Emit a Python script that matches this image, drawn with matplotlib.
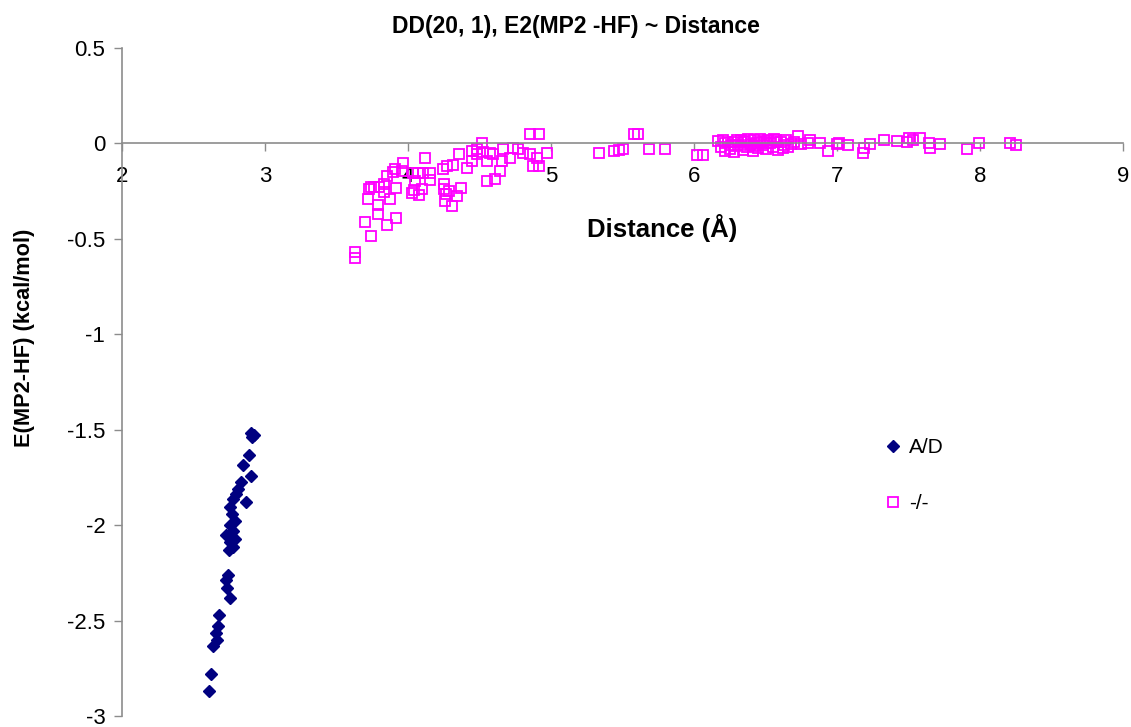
import matplotlib
matplotlib.use("Agg")
import matplotlib.pyplot as plt

plt.rcParams["font.family"] = ["Liberation Sans", "DejaVu Sans"]

# A/D pairs: distance (Å) vs E(MP2-HF) (kcal/mol)
ad_dist = [2.90, 2.92, 2.91, 2.888, 2.848, 2.90, 2.83, 2.813, 2.797, 2.867, 2.774,
           2.755, 2.767, 2.79, 2.755, 2.778, 2.73, 2.79, 2.755, 2.774, 2.75,
           2.743, 2.73, 2.736, 2.755, 2.68, 2.674, 2.657, 2.662, 2.638, 2.62, 2.608]
ad_energy = [-1.516, -1.53, -1.54, -1.63, -1.684, -1.745, -1.776, -1.81, -1.837, -1.877, -1.863,
             -1.906, -1.94, -1.976, -2.00, -2.03, -2.054, -2.07, -2.09, -2.115, -2.128,
             -2.262, -2.288, -2.33, -2.384, -2.47, -2.53, -2.566, -2.60, -2.635, -2.78, -2.87]

# -/- pairs
nn_dist = [3.63, 3.63, 3.739, 3.70, 3.85, 3.916, 3.79, 3.79, 3.874, 3.72, 3.73,
           3.74, 3.76, 3.80, 3.83, 3.83, 3.916, 3.85, 3.897, 3.91, 3.963, 3.956,
           4.033, 4.07, 4.107, 4.12, 4.154, 4.154, 4.05, 4.04, 4.095, 4.03, 4.08,
           4.243, 4.275, 4.317, 4.36, 4.25, 4.25, 4.266, 4.29, 4.26, 4.306, 4.34, 4.37,
           4.41, 4.45, 4.485, 4.527, 4.517, 4.445, 4.48, 4.55, 4.573, 4.597, 4.55, 4.61,
           4.643, 4.655, 4.667, 4.713, 4.737, 4.77, 4.807, 4.853, 4.918, 4.853, 4.872,
           4.918, 4.90, 4.97,
           5.338, 5.44, 5.478, 5.50, 5.58, 5.61, 5.687, 5.80, 6.02, 6.06,
           6.17, 6.19, 6.20, 6.22, 6.24, 6.25, 6.27, 6.28, 6.30, 6.31, 6.33, 6.34,
           6.36, 6.37, 6.38, 6.40, 6.41, 6.42, 6.44, 6.45, 6.46, 6.48, 6.49, 6.50,
           6.52, 6.53, 6.55, 6.56, 6.58, 6.59, 6.61, 6.63, 6.64, 6.66, 6.68, 6.70,
           6.22, 6.29, 6.35, 6.43, 6.51, 6.57, 6.62, 6.47, 6.39, 6.26,
           6.73, 6.75, 6.80, 6.81, 6.88, 6.94, 6.998, 7.016, 7.08,
           7.18, 7.19, 7.23, 7.33, 7.42, 7.49, 7.50, 7.53, 7.58, 7.64, 7.65, 7.72,
           7.91, 7.99, 8.21, 8.25]
nn_energy = [-0.57, -0.60, -0.486, -0.413, -0.427, -0.39, -0.37, -0.323, -0.292, -0.292, -0.24,
             -0.23, -0.23, -0.23, -0.257, -0.214, -0.231, -0.17, -0.149, -0.135, -0.10, -0.144,
             -0.153, -0.153, -0.153, -0.075, -0.153, -0.19, -0.196, -0.243, -0.24, -0.26, -0.27,
             -0.132, -0.118, -0.115, -0.057, -0.213, -0.24, -0.266, -0.248, -0.30, -0.326, -0.278, -0.236,
             -0.127, -0.092, -0.057, -0.045, 0.004, -0.04, -0.031, -0.092, -0.049, -0.057, -0.196, -0.188,
             -0.144, -0.092, -0.031, -0.075, -0.022, -0.031, -0.049, 0.047, 0.047, -0.057, -0.118,
             -0.118, -0.075, -0.049,
             -0.049, -0.04, -0.035, -0.031, 0.047, 0.047, -0.028, -0.028, -0.063, -0.063,
             0.015, -0.02, 0.02, -0.04, 0.005, -0.03, 0.01, -0.045, 0.018, -0.01, 0.02, -0.035,
             0.01, -0.02, 0.025, -0.005, -0.04, 0.02, 0.0, -0.025, 0.025, -0.01, 0.015, -0.03,
             0.02, 0.0, -0.02, 0.022, 0.005, -0.035, 0.01, -0.01, 0.02, -0.02, -0.005, 0.01,
             0.0, -0.015, 0.015, -0.015, 0.0, 0.02, -0.025, 0.01, -0.01, -0.01,
             0.038, -0.005, 0.004, 0.02, 0.0, -0.04, -0.005, 0.0, -0.01,
             -0.049, -0.022, -0.005, 0.017, 0.012, 0.007, 0.03, 0.017, 0.03, 0.004, -0.022, -0.005,
             -0.031, 0.0, 0.004, -0.01]

x_ticks = [2, 3, 4, 5, 6, 7, 8, 9]
y_ticks = [-3, -2.5, -2, -1.5, -1, -0.5, 0, 0.5]

fig = plt.figure(figsize=(11.31, 7.27), dpi=100)
ax = fig.add_axes([122 / 1131, 1 - 716 / 727, (1123 - 122) / 1131, (716 - 48) / 727])

ax.plot(ad_dist, ad_energy, linestyle="none", marker="D", markersize=6.3,
        color="#000080", label="A/D")
ax.plot(nn_dist, nn_energy, linestyle="none", marker="s", markersize=6.5,
        markerfacecolor="none", markeredgecolor="#FF00FF", markeredgewidth=1.3, label="-/-")

ax.set_xlim(2, 9)
ax.set_ylim(-3, 0.5)
ax.set_xticks(x_ticks)
ax.set_yticks(y_ticks)
ax.set_yticklabels([f"{v:g}" for v in y_ticks])

ax.spines["top"].set_visible(False)
ax.spines["right"].set_visible(False)
ax.spines["bottom"].set_position(("data", 0))
for side in ("left", "bottom"):
    ax.spines[side].set_color("#8c8c8c")
    ax.spines[side].set_linewidth(1.2)
ax.tick_params(axis="both", colors="#8c8c8c", labelcolor="black", labelsize=16,
               length=6, width=1.0, direction="out")
ax.tick_params(axis="x", pad=10)
ax.tick_params(axis="y", pad=6)

fig.text(576 / 1131, 1 - 26 / 727, "DD(20, 1), E2(MP2 -HF) ~ Distance",
         ha="center", va="center", fontsize=16.5, fontweight="bold")
fig.text(662 / 1131, 1 - 228 / 727, "Distance (Å)",
         ha="center", va="center", fontsize=18.5, fontweight="bold")
fig.text(25 / 1131, 1 - 338 / 727, "E(MP2-HF) (kcal/mol)", rotation=90,
         ha="center", va="center", fontsize=15.7, fontweight="bold")

ax.legend(loc="upper left", bbox_to_anchor=(876 / 1131, 1 - 428 / 727),
          bbox_transform=fig.transFigure, frameon=False, fontsize=15,
          handlelength=0.6, handletextpad=0.5, labelspacing=1.75, borderpad=0)

fig.savefig("out.png", dpi=100)
